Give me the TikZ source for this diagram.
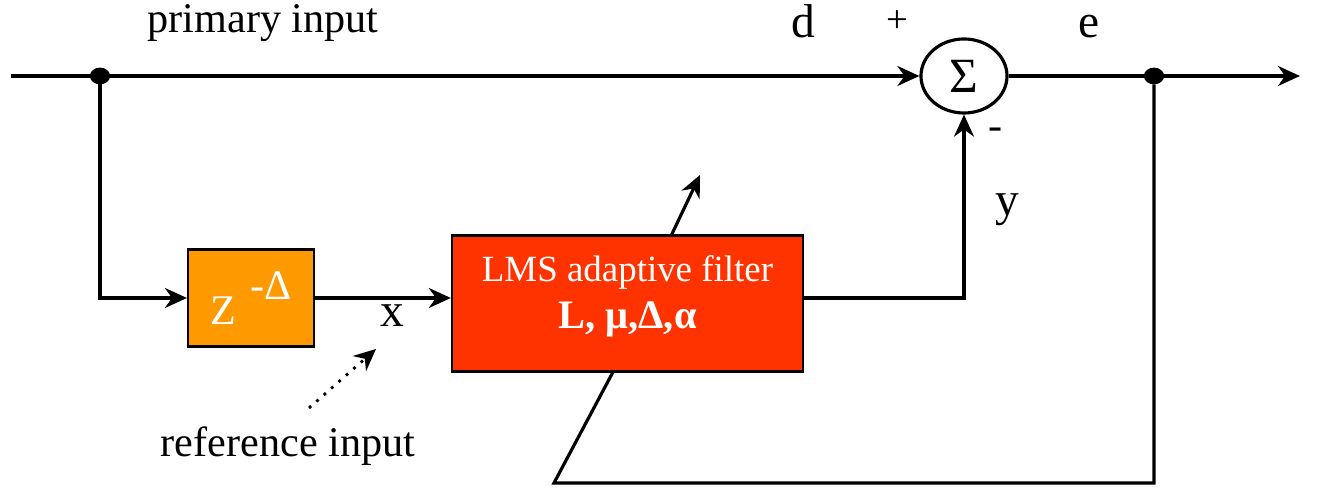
\documentclass[tikz,border=0pt]{standalone}
\usepackage{fontspec}
\setmainfont{Liberation Serif}
\usetikzlibrary{arrows.meta,positioning,shapes.geometric}

\definecolor{delayorange}{HTML}{FF9900}
\definecolor{lmsred}{HTML}{FF3300}

\begin{document}
\begin{tikzpicture}[
  x=0.01cm, y=-0.01cm,
  line width=0.9pt,
  block/.style={draw, line width=0.6pt, text=white, inner sep=0pt},
  sumnode/.style={draw, ellipse, minimum width=8.6mm, minimum height=7.4mm, inner sep=0pt, font=\fontsize{14}{16}\selectfont},
  junction/.style={draw, fill=black, ellipse, minimum width=1.7mm, minimum height=1.35mm, inner sep=0pt},
  sig/.style={font=\fontsize{13.5}{16}\selectfont, anchor=base, inner sep=0pt},
  lbl/.style={font=\fontsize{12}{14}\selectfont, anchor=base, inner sep=0pt},
  >={Stealth[length=2.2mm,width=2mm]}
]
\useasboundingbox (0,0) rectangle (1320,489);

\coordinate (in) at (11,76);
\coordinate (out) at (1300,76);
\node[junction] (split) at (100,76) {};
\node[junction] (tap) at (1154,76) {};
\node[sumnode] (sum) at (964,76) {Σ};
\node[block, fill=delayorange, minimum width=12.6mm, minimum height=9.7mm, font=\fontsize{12}{14}\selectfont] (delay) at (251,298) {Z\hspace{4pt}\raisebox{7pt}{-Δ}};
\node[block, fill=lmsred, minimum width=35.1mm, minimum height=13.6mm, align=center, text depth=6.5pt, font=\fontsize{10.5}{13.3}\selectfont] (lms) at (627.5,303.5) {LMS adaptive filter\\ {\fontsize{11.5}{13.3}\selectfont\bfseries L, μ,Δ,α}};

% signal names
\node[lbl] (primary) at (263,33) {primary input};
\node[lbl] (reference) at (288,457) {reference input};
\node[sig] (dlabel) at (803,38) {d};
\node[sig] (elabel) at (1089,38) {e};
\node[sig] (xlabel) at (392,327) {x};
\node[sig] (ylabel) at (1007,216) {y};
\node[font=\fontsize{11}{13}\selectfont] (plus) at (897,22) {+};
\node[font=\fontsize{12}{14}\selectfont] (minus) at (996,134) {-};

\draw[->] (in) -- (sum.west);
\draw[->] (split) |- (delay.west);
\draw[->] (delay.east) -- (lms.west |- delay.east);
\draw[->] (lms.east |- delay.east) -| (sum.south);
\draw[->] (sum.east) -- (out);

% error fed back into the filter
\coordinate (fbcorner) at (554,483);
\coordinate (adapt) at (613,372);
\draw (tap) |- (fbcorner) -- (adapt);
\coordinate (adapttail) at (671,236);
\coordinate (adapthead) at (700,175);
\draw[->] (adapttail) -- (adapthead);

% pointer to x
\coordinate (refstart) at (309,408);
\coordinate (refend) at (376,349);
\draw[->, dotted, line width=0.8pt] (refstart) -- (refend);
\end{tikzpicture}
\end{document}
